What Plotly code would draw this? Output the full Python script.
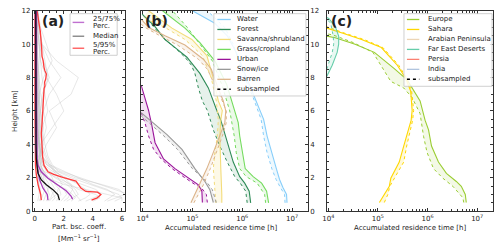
import plotly.graph_objects as go

W, H = 500, 251
FONT = "DejaVu Sans"

# ---------------- Panel (a): particle backscatter profiles ----------------
A_H = [0.6, 0.8, 1.0, 1.3, 1.6, 2.0, 2.4, 2.8, 3.3, 4, 5, 6, 7, 8, 9, 10, 11, 12]
A_PROFILES = [
    [5.5, 6.0, 5.0, 3.5, 2.0, 0.8, 0.3, 0.2, 0.15, 0.1, 0.1, 0.1, 0.08, 0.05, 0.05, 0.05, 0.05, 0.05],
    [2.5, 2.8, 2.6, 2.2, 1.5, 0.9, 0.5, 0.3, 0.2, 0.2, 0.15, 0.1, 0.1, 0.1, 0.1, 0.1, 0.08, 0.05],
    [1.2, 1.4, 1.3, 1.1, 0.8, 0.5, 0.3, 0.25, 0.3, 0.5, 0.8, 0.6, 0.4, 0.3, 0.2, 0.2, 0.1, 0.1],
    [4.0, 4.5, 4.2, 3.0, 2.5, 1.5, 0.6, 0.4, 0.3, 0.25, 0.3, 0.4, 0.5, 1.0, 0.6, 0.3, 0.2, 0.1],
    [0.6, 0.7, 0.8, 0.9, 1.0, 0.7, 0.4, 0.2, 0.1, 0.1, 0.05, 0.05, 0.05, 0.05, 0.05, 0.05, 0.05, 0.05],
    [3.0, 3.5, 3.8, 3.5, 3.0, 2.2, 1.2, 0.6, 0.4, 0.3, 0.2, 0.2, 0.3, 0.6, 1.2, 0.8, 0.4, 0.2],
    [6.0, 6.0, 5.8, 4.8, 3.8, 2.5, 1.5, 0.8, 0.5, 0.4, 1.2, 2.0, 1.5, 0.8, 0.4, 0.3, 0.2, 0.1],
    [1.8, 2.0, 2.2, 2.0, 1.6, 1.0, 0.6, 0.3, 0.2, 0.15, 0.2, 0.3, 0.2, 0.1, 0.1, 0.1, 0.1, 0.1],
    [0.3, 0.4, 0.4, 0.4, 0.3, 0.25, 0.2, 0.15, 0.12, 0.1, 0.1, 0.1, 0.1, 0.1, 0.1, 0.1, 0.1, 0.1],
    [4.8, 5.2, 5.5, 5.0, 4.0, 3.0, 2.0, 1.0, 0.5, 0.8, 1.5, 1.0, 2.5, 3.0, 1.5, 0.5, 0.3, 0.2],
    [2.2, 2.6, 3.0, 2.8, 2.4, 1.8, 1.0, 0.5, 0.4, 0.3, 0.5, 0.9, 0.7, 0.5, 0.4, 0.3, 0.2, 0.1],
    [0.9, 1.1, 1.2, 1.4, 1.2, 0.9, 0.6, 0.4, 0.3, 0.6, 0.4, 0.3, 0.3, 0.2, 0.2, 0.2, 0.15, 0.1],
    [6.5, 7.0, 6.5, 5.5, 4.5, 3.2, 1.8, 0.9, 0.5, 0.3, 0.2, 0.15, 0.1, 0.1, 0.1, 0.1, 0.1, 0.1],
    [1.5, 1.6, 1.8, 1.7, 1.4, 1.2, 0.9, 0.6, 0.4, 0.3, 0.25, 0.2, 0.15, 0.15, 0.1, 0.1, 0.1, 0.1],
    [0.4, 0.5, 0.6, 0.7, 0.6, 0.5, 0.35, 0.25, 0.2, 0.15, 0.1, 0.1, 0.1, 0.08, 0.08, 0.06, 0.05, 0.05],
    [3.5, 4.0, 4.6, 4.2, 3.2, 2.0, 1.4, 1.1, 0.8, 0.5, 0.4, 0.6, 1.0, 1.8, 1.0, 0.5, 0.3, 0.2],
    [0.8, 0.9, 1.0, 0.9, 0.7, 0.6, 0.5, 0.4, 0.3, 0.25, 0.3, 0.35, 0.3, 0.25, 0.3, 0.4, 0.3, 0.2],
    [5.0, 5.6, 6.2, 5.8, 4.6, 2.8, 1.6, 1.2, 0.9, 0.7, 0.5, 0.4, 0.3, 0.3, 0.2, 0.15, 0.1, 0.1],
    [2.0, 2.3, 2.4, 2.6, 2.5, 2.0, 1.4, 0.8, 0.5, 0.35, 0.3, 0.3, 0.25, 0.2, 0.15, 0.1, 0.1, 0.08],
    [0.2, 0.25, 0.3, 0.3, 0.25, 0.2, 0.2, 0.15, 0.1, 0.1, 0.08, 0.08, 0.06, 0.06, 0.05, 0.05, 0.04, 0.04],
    [1.0, 1.2, 1.5, 1.6, 1.9, 1.6, 1.3, 1.0, 0.7, 0.4, 0.6, 0.4, 0.6, 0.9, 0.7, 0.5, 0.3, 0.2],
    [3.2, 3.0, 2.8, 2.6, 2.2, 1.4, 0.8, 0.5, 0.35, 0.3, 0.2, 0.2, 0.15, 0.12, 0.1, 0.1, 0.1, 0.1],
]
MED_H = [0.66, 1.0, 1.29, 1.58, 1.87, 2.26, 2.55, 3.13, 4, 6, 8, 10, 12]
MED = [1.70, 1.59, 1.25, 0.80, 0.45, 0.23, 0.18, 0.11, 0.09, 0.08, 0.07, 0.07, 0.07]
P25_H = [0.66, 1.0, 1.38, 1.87, 2.36, 2.94, 4, 6, 8, 10, 12]
P25 = [0.91, 0.86, 0.57, 0.34, 0.23, 0.14, 0.07, 0.05, 0.05, 0.04, 0.04]
P75_H = [0.71, 0.9, 1.22, 1.58, 1.97, 2.36, 2.74, 3.13, 4, 6, 8, 10, 12]
P75 = [2.61, 2.5, 2.16, 1.59, 0.91, 0.45, 0.23, 0.16, 0.14, 0.13, 0.13, 0.12, 0.12]
P05_H = [0.66, 1.0, 1.58, 2.17, 2.74, 4, 6, 8, 10, 12]
P05 = [0.45, 0.41, 0.23, 0.11, 0.05, 0.02, 0.01, 0.01, 0.01, 0.01]
P95_H = [0.66, 0.8, 0.9, 1.0, 1.14, 1.18, 1.38, 1.6, 1.8, 2.03, 2.2, 2.36, 2.74, 3.2, 3.7,
         4.2, 4.66, 5.2, 5.63, 6.1, 6.6, 7.0, 7.34, 7.5, 7.73, 7.9, 8.21, 8.4, 8.6, 9.0,
         9.27, 9.7, 10.05, 10.5, 10.8, 11.2, 11.6, 12]
P95 = [3.91, 4.3, 4.43, 4.55, 4.32, 3.52, 3.18, 3.0, 2.84, 1.93, 1.3, 0.91, 0.64, 0.55, 0.5,
       0.47, 0.45, 0.5, 0.52, 0.55, 0.57, 0.6, 0.64, 0.7, 0.68, 0.75, 0.8, 0.7, 0.64, 0.58,
       0.5, 0.48, 0.45, 0.42, 0.38, 0.3, 0.23, 0.16]

# ---------------- Panel (b): land cover (log10 of hours) ----------------
LC_NAMES = ["Water", "Forest", "Savanna/shrubland", "Grass/cropland", "Urban", "Snow/ice", "Barren"]
LC_COLORS = ["#87cefa", "#2e8b57", "#f3dc7a", "#74db5e", "#9a139a", "#999999", "#dcb48a"]
LC_FILLS = ["rgba(135,206,250,0.15)", "rgba(46,139,87,0.12)", "rgba(243,220,122,0.18)",
            "rgba(116,219,94,0.14)", "rgba(154,19,154,0.12)", "rgba(150,150,150,0.14)",
            "rgba(220,180,138,0.15)"]

WATER_H = [0.5, 1.0, 1.4, 1.9, 2.5, 3.5, 4.5, 5.5, 6.8, 7.5, 8.5, 9.5, 10.5, 11.25, 12]
WATER = [6.90, 6.89, 6.82, 6.75, 6.69, 6.59, 6.50, 6.43, 6.25, 6.15, 6.02, 5.88, 5.70, 5.45, 5.0]
WATER_SUB_H = [0.5, 1.0, 1.4, 1.9, 2.5, 3.5, 4.5, 5.5, 6.8, 8, 9, 10, 11, 12]
WATER_SUB = [6.86, 6.85, 6.77, 6.68, 6.60, 6.50, 6.43, 6.38, 6.22, 6.05, 5.93, 5.82, 5.65, 5.3]

FOREST_H = [0.5, 1.2, 1.68, 2.07, 2.94, 3.9, 4.87, 5.45, 6.03, 6.6, 7.38, 8.25, 8.74, 9.22,
            9.7, 10.28, 11.05, 11.8]
FOREST = [6.17, 6.14, 6.05, 5.95, 5.82, 5.72, 5.62, 5.57, 5.49, 5.42, 5.32, 5.15, 5.02, 4.89,
          4.69, 4.45, 4.25, 3.99]
FOREST_SUB_H = FOREST_H
FOREST_SUB = [6.10, 6.07, 5.96, 5.85, 5.70, 5.55, 5.42, 5.36, 5.30, 5.20, 5.12, 5.05, 4.98,
              4.85, 4.68, 4.45, 4.22, 3.99]

SAV_H = [0.5, 1.0, 2.55, 4.48, 5.45, 6.03, 6.6, 7.96, 9.32, 10.28, 10.96, 12]
SAV = [5.59, 5.59, 5.57, 5.55, 5.57, 5.60, 5.52, 5.42, 5.29, 4.99, 4.59, 4.12]
SAV_SUB_H = [0.5, 1.0, 2.55, 3.5, 4.48, 5.45, 6.6, 7.96, 9.32, 10.28, 11.0, 11.6]
SAV_SUB = [5.47, 5.46, 5.42, 5.45, 5.50, 5.52, 5.48, 5.38, 5.20, 4.85, 4.45, 4.0]

GRASS_H = [0.5, 1.0, 1.2, 1.68, 2.07, 2.55, 3.5, 4.5, 5.3, 6.03, 7.58, 9.0, 10.09, 10.96, 12]
GRASS = [6.53, 6.51, 6.49, 6.39, 6.22, 6.06, 6.00, 5.95, 5.92, 5.85, 5.69, 5.45, 5.15, 4.85, 4.4]
GRASS_SUB_H = [0.5, 1.0, 1.68, 2.07, 2.55, 3.5, 4.5, 5.3, 6.0, 7.5, 9.0, 10.0, 11.0, 12]
GRASS_SUB = [6.47, 6.45, 6.30, 6.08, 5.95, 5.88, 5.84, 5.80, 5.75, 5.60, 5.40, 5.15, 4.9, 4.6]

URBAN_H = [0.52, 1.2, 1.58, 2.07, 2.55, 3.13, 4.1, 5.06, 6.03, 7.55]
URBAN = [5.20, 5.19, 5.12, 4.89, 4.65, 4.42, 4.25, 4.19, 4.12, 3.97]
URBAN_SUB_H = [0.52, 1.0, 1.4, 1.6, 2.0, 2.55, 3.1, 3.7, 4.5, 5.26, 5.9]
URBAN_SUB = [5.30, 5.28, 5.18, 5.05, 4.85, 4.59, 4.38, 4.22, 4.12, 4.05, 3.97]

SNOW_H = [0.52, 1.29, 1.78, 2.55, 3.7, 4.58, 5.9]
SNOW = [5.42, 5.35, 5.25, 5.05, 4.79, 4.49, 3.97]
SNOW_SUB_H = [0.52, 1.29, 1.78, 2.55, 3.7, 4.58, 5.7]
SNOW_SUB = [5.48, 5.40, 5.28, 5.00, 4.70, 4.40, 3.97]

BARREN_H = [0.5, 1.0, 1.58, 2.55, 3.52, 4.48, 5.3, 6.0, 6.6, 7.5, 8.5, 9.1, 9.95, 10.5, 11.0, 11.5]
BARREN = [4.97, 5.05, 5.15, 5.29, 5.42, 5.55, 5.65, 5.67, 5.62, 5.50, 5.38, 5.22, 4.85, 4.45,
          4.12, 3.97]
BARREN_SUB_H = [0.5, 1.0, 1.58, 2.55, 3.52, 4.48, 5.3, 6.0, 6.6, 7.5, 8.5, 9.1, 9.95, 10.5, 11.0, 11.2]
BARREN_SUB = [5.03, 5.12, 5.22, 5.36, 5.48, 5.60, 5.68, 5.68, 5.60, 5.45, 5.30, 5.12, 4.70,
              4.35, 4.05, 3.97]

LC_DATA = [
    (WATER_H, WATER, WATER_SUB_H, WATER_SUB),
    (FOREST_H, FOREST, FOREST_SUB_H, FOREST_SUB),
    (SAV_H, SAV, SAV_SUB_H, SAV_SUB),
    (GRASS_H, GRASS, GRASS_SUB_H, GRASS_SUB),
    (URBAN_H, URBAN, URBAN_SUB_H, URBAN_SUB),
    (SNOW_H, SNOW, SNOW_SUB_H, SNOW_SUB),
    (BARREN_H, BARREN, BARREN_SUB_H, BARREN_SUB),
]

# ---------------- Panel (c): source regions (log10 of hours) ----------------
RG_NAMES = ["Europe", "Sahara", "Arabian Peninsula", "Far East Deserts", "Persia", "India"]
RG_COLORS = ["#9acd32", "#ffd700", "#ecd5b5", "#66cdaa", "#fa8072", "#b0c4de"]
RG_FILLS = ["rgba(154,205,50,0.12)", "rgba(255,215,0,0.15)", "rgba(236,213,181,0.15)",
            "rgba(102,205,170,0.15)", "rgba(250,128,114,0.15)", "rgba(176,196,222,0.15)"]

EUR_H = [0.52, 1.0, 1.49, 1.78, 2.26, 2.94, 3.9, 4.87, 5.45, 6.6, 7.86, 8.54, 9.51, 10.0, 10.38, 10.48]
EUR = [6.78, 6.76, 6.68, 6.58, 6.38, 6.22, 6.08, 6.02, 5.95, 5.85, 5.59, 5.33, 4.93, 4.54, 4.14, 3.97]
EUR_SUB_H = [0.52, 0.81, 1.49, 1.97, 2.55, 3.52, 4.48, 5.45, 5.84, 6.8, 7.38, 7.77, 8.54, 9.51,
             10.1, 10.55, 10.62]
EUR_SUB = [6.73, 6.71, 6.51, 6.31, 6.12, 5.99, 5.92, 5.88, 5.85, 5.69, 5.52, 5.26, 5.10, 4.90,
           4.50, 4.10, 3.97]

SAH_H = [0.52, 1.0, 1.49, 1.97, 2.94, 3.9, 4.87, 5.45, 6.03, 7.19, 7.96, 8.74, 9.8, 10.28, 10.67, 10.96]
SAH = [5.03, 5.13, 5.23, 5.26, 5.43, 5.52, 5.62, 5.67, 5.69, 5.66, 5.56, 5.39, 5.07, 4.67, 4.28, 3.97]
SAH_SUB_H = [0.52, 1.0, 1.49, 1.97, 2.94, 3.9, 4.87, 5.45, 6.03, 7.19, 7.96, 8.74, 9.8, 10.28, 10.67, 11.05]
SAH_SUB = [5.13, 5.20, 5.24, 5.33, 5.52, 5.58, 5.65, 5.70, 5.72, 5.68, 5.58, 5.42, 5.10, 4.72,
           4.32, 3.97]

FED_H = [8.06, 8.74, 9.51, 10.0, 10.48, 11.07, 11.54, 11.6]
FED = [3.97, 4.08, 4.18, 4.21, 4.21, 4.14, 4.01, 3.97]
FED_SUB_H = [8.5, 9.5, 10.0, 10.5, 11.25, 11.5]
FED_SUB = [3.97, 4.08, 4.11, 4.10, 4.05, 3.97]

RG_DATA = [
    (EUR_H, EUR, EUR_SUB_H, EUR_SUB),
    (SAH_H, SAH, SAH_SUB_H, SAH_SUB),
    None,
    (FED_H, FED, FED_SUB_H, FED_SUB),
    None,
    None,
]

LOG_TICKS = [4, 5, 6, 7]

fig = go.Figure()

# ---- panel (a) traces ----
for prof in A_PROFILES:
    fig.add_trace(go.Scatter(x=prof, y=A_H, mode="lines", xaxis="x", yaxis="y",
                             line=dict(color="rgba(185,185,185,0.5)", width=0.7),
                             showlegend=False, hoverinfo="skip"))
for xs, hs, col in [(P05, P05_H, "#ff3b3b"), (P95, P95_H, "#ff3b3b"),
                    (P25, P25_H, "#a63cb8"), (P75, P75_H, "#a63cb8"),
                    (MED, MED_H, "#111111")]:
    fig.add_trace(go.Scatter(x=xs, y=hs, mode="lines", xaxis="x", yaxis="y",
                             line=dict(color=col, width=1.3), showlegend=False))

# ---- panel (b) / (c) traces ----
def add_pair(data, col, fillc, xa, ya):
    h, v, hs, vs = data
    fig.add_trace(go.Scatter(x=[10 ** a for a in v], y=h, mode="lines", xaxis=xa, yaxis=ya,
                             line=dict(color=col, width=1.1), showlegend=False))
    fig.add_trace(go.Scatter(x=[10 ** a for a in vs], y=hs, mode="lines", xaxis=xa, yaxis=ya,
                             line=dict(color=col, width=1.0, dash="dot"), fill="tonextx",
                             fillcolor=fillc, showlegend=False))

for data, col, fc in zip(LC_DATA, LC_COLORS, LC_FILLS):
    add_pair(data, col, fc, "x2", "y2")
for data, col, fc in zip(RG_DATA, RG_COLORS, RG_FILLS):
    if data is not None:
        add_pair(data, col, fc, "x3", "y3")

# ---- axes ----
DOM_Y = [1 - 214 / H, 1 - 7 / H]
tickfont = dict(family=FONT, size=7, color="#222")
common = dict(showline=True, linecolor="#333", linewidth=0.9, mirror="ticks", ticks="inside",
              ticklen=3, tickwidth=0.8, tickcolor="#333", showgrid=False, zeroline=False,
              tickfont=tickfont)
yax = dict(range=[0, 12], tickvals=[0, 2, 4, 6, 8, 10, 12],
           minor=dict(ticks="inside", ticklen=1.8, dtick=0.5, tickcolor="#333", showgrid=False),
           domain=DOM_Y, **common)
minor_log = [m * 10 ** d for d in [3, 4, 5, 6, 7] for m in range(2, 10)]
logax = dict(type="log", range=[3.97, 7.32], tickvals=[10 ** d for d in LOG_TICKS],
             ticktext=["10<sup>%d</sup>" % d for d in LOG_TICKS],
             minor=dict(ticks="inside", ticklen=1.8, tickmode="array", tickvals=minor_log,
                        tickcolor="#333", showgrid=False), **common)

fig.update_layout(
    width=W, height=H, margin=dict(l=0, r=0, t=0, b=0),
    paper_bgcolor="white", plot_bgcolor="white", showlegend=False,
    xaxis=dict(domain=[28 / W, 121 / W], range=[-0.14, 6.2], tickvals=[0, 2, 4, 6],
               minor=dict(ticks="inside", ticklen=1.8, dtick=0.5, tickcolor="#333", showgrid=False),
               anchor="y", **common),
    yaxis=dict(anchor="x", **yax),
    xaxis2=dict(domain=[137.5 / W, 306 / W], anchor="y2", **logax),
    yaxis2=dict(anchor="x2", side="right", **yax),
    xaxis3=dict(domain=[325 / W, 493 / W], anchor="y3", **logax),
    yaxis3=dict(anchor="x3", showticklabels=False, **yax),
)

# ---- annotations & manual legends ----
ann = []
shapes = []

def px(x):
    return x / W

def py(y):
    return 1 - y / H

def text(x, y, s, size=7, anchor="left", angle=0):
    ann.append(dict(x=px(x), y=py(y), xref="paper", yref="paper", text=s, showarrow=False,
                    xanchor=anchor, yanchor="middle", textangle=angle,
                    font=dict(family=FONT, size=size, color="#222")))

# panel labels
for lx, lab in [(35, "(a)"), (139.5, "(b)"), (327.5, "(c)")]:
    text(lx, 18, "<b>%s</b>" % lab, size=14)

# axis titles
text(10, 110.5, "Height [km]", anchor="center", angle=-90)
text(74.5, 230, "Part. bsc. coeff.", anchor="center")
text(74.5, 241.5, "[Mm<sup>−1</sup> sr<sup>−1</sup>]", anchor="center")
text(218.5, 231, "Accumulated residence time [h]", anchor="center")
text(409, 231, "Accumulated residence time [h]", anchor="center")

def box(x0, x1, y0, y1):
    shapes.append(dict(type="rect", xref="paper", yref="paper", x0=px(x0), x1=px(x1),
                       y0=py(y1), y1=py(y0), line=dict(color="#c4c4c4", width=0.8),
                       fillcolor="rgba(255,255,255,0.85)", layer="above"))

def sample(x0, x1, y, col, dash="solid", width=1.3):
    shapes.append(dict(type="line", xref="paper", yref="paper", x0=px(x0), x1=px(x1),
                       y0=py(y), y1=py(y), line=dict(color=col, width=width, dash=dash),
                       layer="above"))

# legend (a)
box(65.7, 113.3, 10, 53)
A_LEG = [("25/75%", "Perc.", "#c070d0", 19), ("Median", None, "#888888", 33.3),
         ("5/95%", "Perc.", "#ff6060", 45.7)]
for t1, t2, col, yy in A_LEG:
    sample(68.3, 80, yy, col, width=1.4)
    if t2:
        text(86.5, yy - 3.5, t1)
        text(86.5, yy + 3.5, t2)
    else:
        text(86.5, yy, t1)

# legend (b)
box(211, 304, 10, 95)
for i, (name, col) in enumerate(zip(LC_NAMES, LC_COLORS)):
    yy = 16 + 10.3 * i
    sample(214.5, 228, yy, col)
    text(232, yy, name)
sample(214.5, 228, 16 + 10.3 * 7, "#000000", dash="dot", width=1.6)
text(232, 16 + 10.3 * 7, "subsampled")

# legend (c)
box(403, 492, 10, 85)
for i, (name, col) in enumerate(zip(RG_NAMES, RG_COLORS)):
    yy = 16 + 10.3 * i
    sample(406, 418.5, yy, col)
    text(425, yy, name)
sample(406, 418.5, 16 + 10.3 * 6, "#000000", dash="dot", width=1.6)
text(425, 16 + 10.3 * 6, "subsampled")

fig.update_layout(annotations=ann, shapes=shapes)
fig.write_html("out.html", config={"displayModeBar": False},
               post_script="document.body.style.margin='0px';")
